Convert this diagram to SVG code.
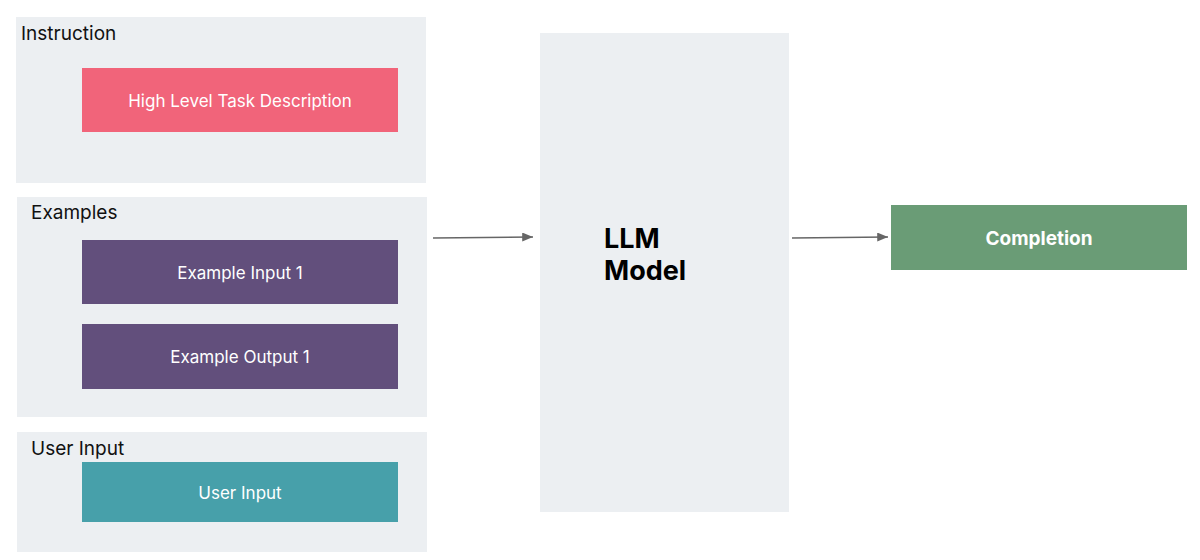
<svg xmlns="http://www.w3.org/2000/svg" width="1200" height="560" viewBox="0 0 1200 560">
<style>
.group{fill:#ECEFF2}
.glabel{font-family:Inter,"Liberation Sans",sans-serif;font-size:19px;fill:#111}
.ntext{font-family:Inter,"Liberation Sans",sans-serif;font-size:17px;fill:#fff;text-anchor:middle;dominant-baseline:central}
.ctext{font-size:19px;font-weight:bold}
.big{font-family:Inter,"Liberation Sans",sans-serif;font-size:27px;font-weight:bold;fill:#000}
.conn{stroke:#666;stroke-width:1.5;fill:none}
</style>
<defs>
<marker id="arr" viewBox="0 0 12 10" refX="12" refY="5" markerWidth="12" markerHeight="9" markerUnits="userSpaceOnUse" orient="auto">
<path d="M0,0 L12,5 L0,10 z" fill="#666"/>
</marker>
</defs>
<rect width="1200" height="560" fill="#fff"/>
<g id="instruction">
<rect class="group" x="16" y="17" width="410" height="166"/>
<text class="glabel" x="21" y="40">Instruction</text>
</g>
<g id="task">
<rect x="82" y="68" width="316" height="64" fill="#F1647A"/>
<text class="ntext" x="240" y="101">High Level Task Description</text>
</g>
<g id="examples">
<rect class="group" x="17" y="197" width="410" height="220"/>
<text class="glabel" x="31" y="219">Examples</text>
</g>
<g id="example-input">
<rect x="82" y="240" width="316" height="64" fill="#624F7C"/>
<text class="ntext" x="240" y="273">Example Input 1</text>
</g>
<g id="example-output">
<rect x="82" y="324" width="316" height="65" fill="#624F7C"/>
<text class="ntext" x="240" y="357">Example Output 1</text>
</g>
<g id="user-input-group">
<rect class="group" x="17" y="432" width="410" height="120"/>
<text class="glabel" x="31" y="455">User Input</text>
</g>
<g id="user-input">
<rect x="82" y="462" width="316" height="60" fill="#47A0AA"/>
<text class="ntext" x="240" y="493">User Input</text>
</g>
<g id="llm">
<rect class="group" x="540" y="33" width="249" height="479"/>
<text class="big" x="604" y="248">LLM</text>
<text class="big" x="604" y="280">Model</text>
</g>
<g id="completion">
<rect x="891" y="205" width="296" height="65" fill="#6A9C76"/>
<text class="ntext ctext" x="1039" y="238">Completion</text>
</g>
<g id="connectors">
<line class="conn" x1="433" y1="238" x2="533" y2="237" marker-end="url(#arr)"/>
<line class="conn" x1="792" y1="238" x2="888" y2="237" marker-end="url(#arr)"/>
</g>
</svg>
